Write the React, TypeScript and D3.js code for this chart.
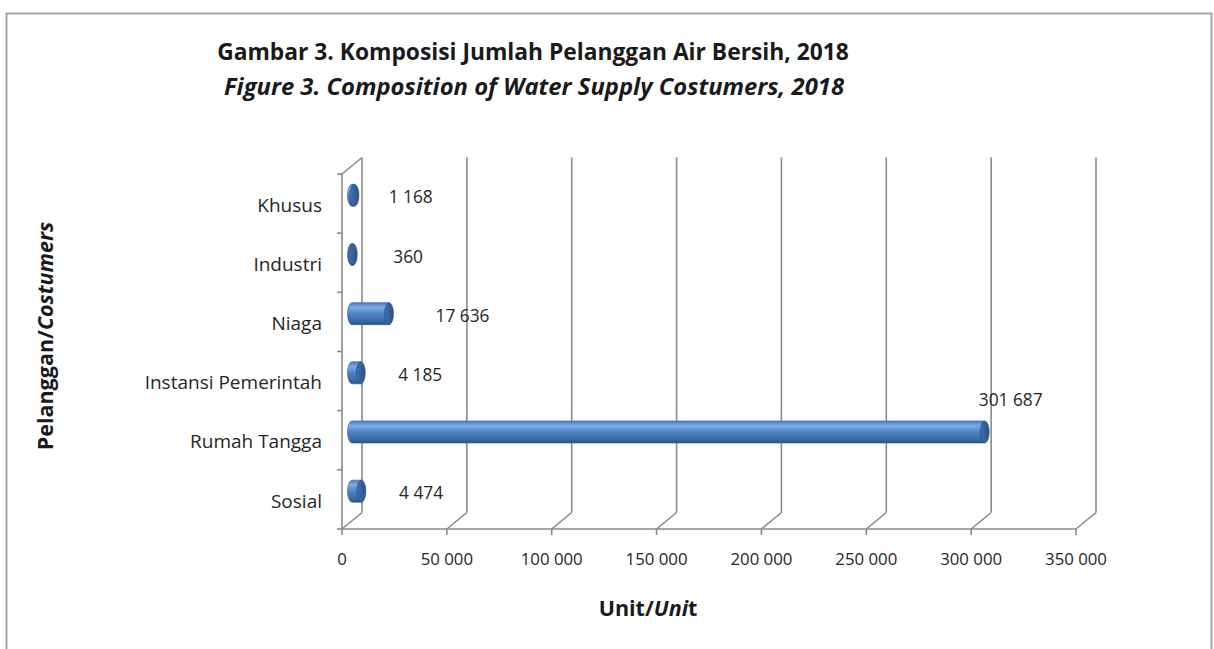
import React from 'react';
import * as d3 from 'd3';

const categories = ['Khusus', 'Industri', 'Niaga', 'Instansi Pemerintah', 'Rumah Tangga', 'Sosial'];
const values = [1168, 360, 17636, 4185, 301687, 4474];
const xTicks = [0, 50000, 100000, 150000, 200000, 250000, 300000, 350000];

const titleLine1 = 'Gambar 3. Komposisi Jumlah Pelanggan Air Bersih, 2018';
const titleLine2 = 'Figure 3. Composition of Water Supply Costumers, 2018';

const W = 1214;
const H = 649;
const FONT = '"Open Sans", sans-serif';

// pseudo 3d depth of the plot walls
const DX = 20;
const DY = -16.5;

const locale = d3.formatLocale({ decimal: ',', thousands: ' ', grouping: [3], currency: ['', ''] });
const fmt = locale.format(',d');

const App = () => {
  const x = d3.scaleLinear().domain([0, 350000]).range([342, 1076]);
  const y = d3.scaleBand().domain(categories).range([174, 529]).padding(0);
  const bw = y.bandwidth();
  const yTop = y.range()[0];
  const yBottom = y.range()[1];
  const barR = 11;
  const capRx = 4.5;
  const grid = '#8a8a8a';

  const bars = categories.map((c, i) => {
    const cy = (y(c) as number) + bw / 2 + DY / 2;
    const x0 = x(0) + DX / 2;
    const x1 = x(values[i]) + DX / 2;
    return { c, v: values[i], cy, x0, x1 };
  });

  return (
    <svg width={W} height={H} style={{ position: 'absolute', left: 0, top: 0, background: '#fff' }}>
      <defs>
        <linearGradient id="cyl" x1="0" y1="0" x2="0" y2="1">
          <stop offset="0%" stopColor="#4a7cc0" />
          <stop offset="22%" stopColor="#7dabe6" />
          <stop offset="50%" stopColor="#4f83c4" />
          <stop offset="85%" stopColor="#3a69a6" />
          <stop offset="100%" stopColor="#2a4f84" />
        </linearGradient>
        <linearGradient id="cap" x1="0" y1="0" x2="1" y2="0">
          <stop offset="0%" stopColor="#4272b0" />
          <stop offset="100%" stopColor="#2b5084" />
        </linearGradient>
      </defs>

      <rect x={6.5} y={13.5} width={1205} height={700} fill="#fff" stroke="#a6a6a6" strokeWidth={2} />

      <text x={533} y={60} textAnchor="middle" fontFamily={FONT} fontWeight="bold" fontSize={22.8} fill="#1a1a1a">
        {titleLine1}
      </text>
      <text x={534} y={95} textAnchor="middle" fontFamily={FONT} fontWeight="bold" fontStyle="italic" fontSize={23.8} fill="#1a1a1a">
        {titleLine2}
      </text>

      {/* back wall gridlines + floor slants */}
      {xTicks.map((t) => (
        <g key={t} stroke={grid} strokeWidth={1.6} fill="none">
          <line x1={x(t) + DX} x2={x(t) + DX} y1={yTop + DY} y2={yBottom + DY} />
          <line x1={x(t)} y1={yBottom} x2={x(t) + DX} y2={yBottom + DY} />
          <line x1={x(t)} x2={x(t)} y1={yBottom} y2={yBottom + 6} />
        </g>
      ))}

      {/* left wall */}
      <g stroke={grid} strokeWidth={1.6} fill="none">
        <line x1={x(0)} x2={x(0)} y1={yTop} y2={yBottom} />
        <line x1={x(0)} y1={yTop} x2={x(0) + DX} y2={yTop + DY} />
        <line x1={x(0)} x2={x(xTicks[xTicks.length - 1])} y1={yBottom} y2={yBottom} />
        {d3.range(categories.length + 1).map((i) => (
          <line key={i} x1={x(0) - 5} x2={x(0)} y1={yTop + i * bw} y2={yTop + i * bw} />
        ))}
      </g>

      {/* cylinders */}
      {bars.map((b) => (
        <g key={b.c}>
          <path
            d={`M${b.x0},${b.cy - barR} L${b.x1},${b.cy - barR} L${b.x1},${b.cy + barR} L${b.x0},${b.cy + barR} A${capRx},${barR} 0 0 1 ${b.x0},${b.cy - barR} Z`}
            fill="url(#cyl)"
            stroke="#2f5a8e"
            strokeWidth={0.6}
          />
          <ellipse cx={b.x1} cy={b.cy} rx={capRx} ry={barR} fill="url(#cap)" stroke="#2b4f80" strokeWidth={0.6} />
        </g>
      ))}

      {/* value labels */}
      {bars.map((b) => {
        const above = b.v > 150000;
        const lx = above ? b.x1 + 26 : b.x1 + 55 + 0.5 * (b.x1 - b.x0);
        const ly = above ? b.cy - 32 : b.cy + 2;
        return (
          <text key={b.c} x={lx} y={ly} dy="0.35em" textAnchor="middle" fontFamily={FONT} fontSize={17.3} fill="#262626">
            {fmt(b.v)}
          </text>
        );
      })}

      {/* category labels */}
      {categories.map((c) => (
        <text key={c} x={322} y={(y(c) as number) + bw / 2 + 1.5} dy="0.35em" textAnchor="end" fontFamily={FONT} fontSize={19} fill="#262626">
          {c}
        </text>
      ))}

      {/* x tick labels */}
      {xTicks.map((t) => (
        <text key={t} x={x(t)} y={559} dy="0.35em" textAnchor="middle" fontFamily={FONT} fontSize={16.8} fill="#262626">
          {fmt(t)}
        </text>
      ))}

      <text x={648} y={608} dy="0.35em" textAnchor="middle" fontFamily={FONT} fontWeight="bold" fontSize={21.5} fill="#1a1a1a">
        Unit/<tspan fontStyle="italic">Uni</tspan>t
      </text>

      <text transform="translate(45,336) rotate(-90)" dy="0.35em" textAnchor="middle" fontFamily={FONT} fontWeight="bold" fontSize={21.5} fill="#1a1a1a">
        Pelanggan/<tspan fontStyle="italic">Costumers</tspan>
      </text>
    </svg>
  );
};

export default App;
